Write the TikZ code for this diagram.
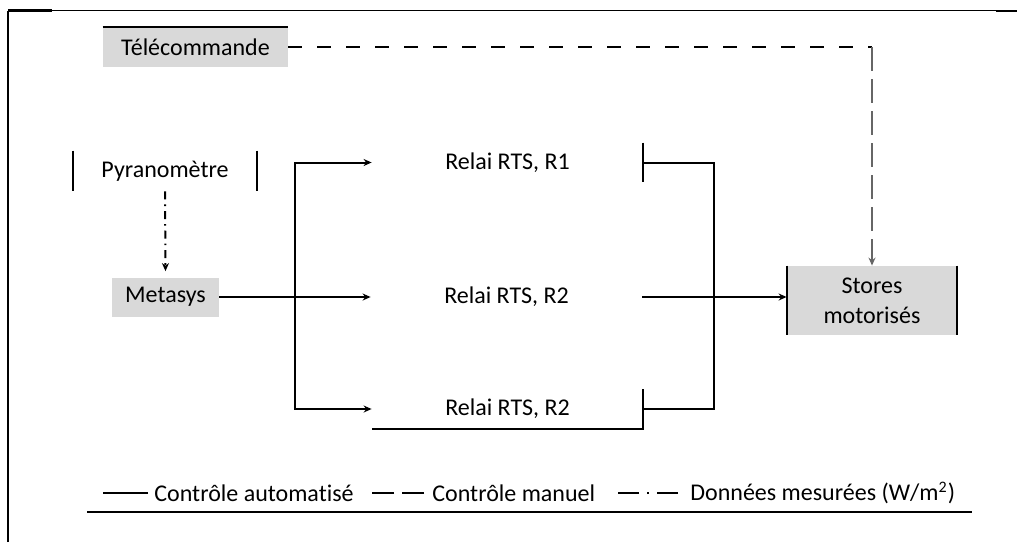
\documentclass[tikz,border=0pt]{standalone}
\usepackage{fontspec}
\setmainfont{Carlito}[Ligatures=NoCommon]
\usetikzlibrary{arrows.meta,calc}

\begin{document}
\begin{tikzpicture}[x=0.5pt,y=-0.5pt,>={Stealth[length=4pt,width=3.5pt]},
  every node/.style={font=\fontsize{12}{15}\selectfont},
  ctrl/.style={line width=1pt},
  manual/.style={line width=1.2pt,dash pattern=on 7pt off 7.5pt},
  mesure/.style={line width=1pt,dash pattern=on 4pt off 2.5pt on 0.8pt off 2.5pt},
  shaded/.style={fill=black!15,inner sep=0pt},
  relay/.style={minimum width=135.5pt,minimum height=19.5pt,inner sep=0pt},
  legend/.style={anchor=west,inner sep=0pt}]
  \useasboundingbox (0,0) rectangle (1017,542);
  % frame
  \draw[line width=1pt] (8,542) -- (8,10.5);
  \draw[line width=0.5pt] (8,10.5) -- (1017,10.5);
  \draw[line width=1.2pt] (8,10.5) -- (52,10.5);
  \draw[line width=1.2pt] (996,11) -- (1017,11);
  % blocks
  \node[shaded,minimum width=92.5pt,minimum height=20pt] (tele) at (195.5,47) {Télécommande};
  \draw[line width=1pt] (tele.north west) -- (tele.north east);
  \node[minimum width=92pt,minimum height=20pt,inner sep=0pt] (pyra) at (165,171) {Pyranomètre};
  \draw[ctrl] (pyra.north west) -- (pyra.south west) (pyra.north east) -- (pyra.south east);
  \node[shaded,minimum width=53.5pt,minimum height=19.5pt] (meta) at (165.5,297) {Metasys};
  \node[relay] (r1) at (507.5,162.5) {Relai RTS, R1};
  \node[relay] (r2) at (506.5,297) {Relai RTS, R2};
  \node[relay] (r3) at (507.5,409) {Relai RTS, R2};
  \node[shaded,minimum width=85pt,minimum height=34.5pt,align=center] (stores) at (872,300.5) {Stores\\motorisés};
  \draw[ctrl] (stores.north west) -- (stores.south west) (stores.north east) -- (stores.south east);
  % links
  \coordinate (fork) at (295,297);
  \coordinate (merge) at (714,297);
  \coordinate (corner) at (872,47);
  \draw[mesure,->] (pyra.south) -- ([yshift=3pt]meta.north);
  \draw[ctrl,->] (meta.east) -- (r2.west);
  \draw[ctrl,<->] (r1.west) -| (fork) |- (r3.west);
  \draw[ctrl] (r1.north east) -- (r1.south east);
  \draw[ctrl] (r3.north east) -- (r3.south east) -- (r3.south west);
  \draw[ctrl] (r1.east) -| (merge) |- (r3.east);
  \draw[ctrl,->] (r2.east) -- (r2.east -| stores.west);
  \draw[manual] (tele.east) -- (corner);
  \draw[manual,black!60,dash pattern=on 12pt off 4pt,->] (corner) -- (stores.north);
  % legend
  \node[legend] (lauto) at (154,493) {Contrôle automatisé};
  \node[legend] (lman) at (432,493) {Contrôle manuel};
  \node[legend] (lmes) at (690,493) {Données mesurées (W/m\textsuperscript{2})};
  \draw[ctrl] ([xshift=-3pt]lauto.west) -- ++(-45,0);
  \draw[ctrl,dash pattern=on 11pt off 4pt] ([xshift=-4pt]lman.west) -- ++(-52,0);
  \draw[ctrl,dash pattern=on 10.5pt off 4pt on 1pt off 4pt] ([xshift=-6pt]lmes.west) -- ++(-61,0);
  \draw[line width=1.2pt] (87,512) -- (972,512);
\end{tikzpicture}
\end{document}
